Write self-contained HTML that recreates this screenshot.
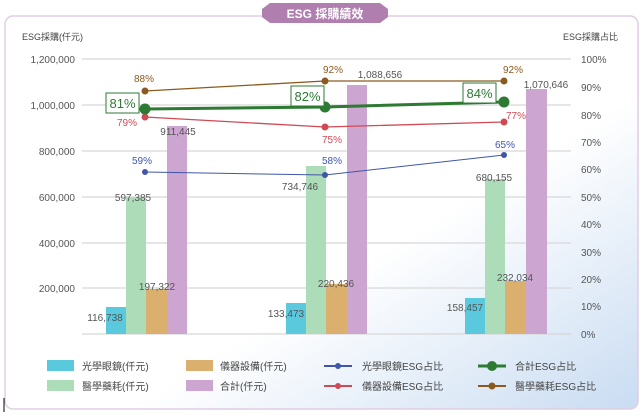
<!DOCTYPE html>
<html><head><meta charset="utf-8"><style>
body{margin:0;width:641px;height:415px;overflow:hidden;background:#fff;font-family:"Liberation Sans","Noto Sans CJK TC",sans-serif}
</style></head><body>
<svg width="641" height="415" viewBox="0 0 641 415" xmlns="http://www.w3.org/2000/svg" font-family="Liberation Sans, Noto Sans CJK TC, sans-serif">
<defs><linearGradient id="bg" x1="0" y1="0" x2="1" y2="1"><stop offset="0.6" stop-color="#fff"/><stop offset="1" stop-color="#c9dcf2"/></linearGradient></defs>
<rect x="5" y="16" width="633" height="393" rx="8" fill="url(#bg)" stroke="#e0cde3" stroke-width="1.5"/>
<polygon points="262,9 270,3 380,3 388,9 388,17 380,23 270,23 262,17" fill="#b07fb0"/>
<text x="325" y="18" font-size="12" font-weight="bold" fill="#fff" text-anchor="middle">ESG 採購績效</text>
<text x="22" y="40" font-size="9" fill="#444">ESG採購(仟元)</text>
<text x="618" y="40" font-size="9" fill="#444" text-anchor="end">ESG採購占比</text>
<g stroke="#d8d8d8" stroke-width="1.2">
<line x1="82" y1="59" x2="571" y2="59"/><line x1="82" y1="105" x2="571" y2="105"/><line x1="82" y1="151" x2="571" y2="151"/><line x1="82" y1="197" x2="571" y2="197"/><line x1="82" y1="243" x2="571" y2="243"/><line x1="82" y1="288" x2="571" y2="288"/><line x1="82" y1="334" x2="571" y2="334"/></g>
<g font-size="10" fill="#555" text-anchor="end">
<text x="75" y="63">1,200,000</text><text x="75" y="109">1,000,000</text><text x="75" y="155">800,000</text><text x="75" y="201">600,000</text><text x="75" y="247">400,000</text><text x="75" y="292">200,000</text></g>
<g font-size="10" fill="#555">
<text x="581" y="63">100%</text><text x="581" y="91">90%</text><text x="581" y="119">80%</text><text x="581" y="146">70%</text><text x="581" y="173">60%</text><text x="581" y="201">50%</text><text x="581" y="228">40%</text><text x="581" y="256">30%</text><text x="581" y="283">20%</text><text x="581" y="310">10%</text><text x="581" y="338">0%</text></g>
<g>
<rect x="106" y="307" width="20" height="27" fill="#5bc9dd"/><rect x="126" y="197" width="20" height="137" fill="#acdcb8"/><rect x="146" y="289" width="21" height="45" fill="#dbaf6d"/><rect x="167" y="126" width="20" height="208" fill="#cca5d0"/>
<rect x="286" y="303" width="20" height="31" fill="#5bc9dd"/><rect x="306" y="166" width="20" height="168" fill="#acdcb8"/><rect x="326" y="284" width="21" height="50" fill="#dbaf6d"/><rect x="347" y="85" width="20" height="249" fill="#cca5d0"/>
<rect x="465" y="298" width="20" height="36" fill="#5bc9dd"/><rect x="485" y="179" width="20" height="155" fill="#acdcb8"/><rect x="505" y="281" width="21" height="53" fill="#dbaf6d"/><rect x="526" y="89" width="21" height="245" fill="#cca5d0"/>
</g>
<g font-size="10" fill="#555" text-anchor="middle">
<text x="105" y="321">116,738</text><text x="133" y="201">597,385</text><text x="157" y="290">197,322</text><text x="178" y="135">911,445</text>
<text x="286" y="317">133,473</text><text x="300" y="190">734,746</text><text x="336" y="287">220,436</text><text x="380" y="78">1,088,656</text>
<text x="465" y="311">158,457</text><text x="494" y="181">680,155</text><text x="515" y="281">232,034</text><text x="546" y="88">1,070,646</text></g>
<g fill="none">
<polyline points="145,91 325,81 504,81" stroke="#8b5a1e" stroke-width="1.3"/>
<polyline points="145,117 325,127 504,122" stroke="#cf4a55" stroke-width="1.3"/>
<polyline points="145,172 325,175 504,155" stroke="#4056a8" stroke-width="1"/>
<polyline points="145,109 325,107 504,102" stroke="#2d7a33" stroke-width="3"/>
</g>
<g fill="#8b5a1e"><circle cx="145" cy="91" r="3.5"/><circle cx="325" cy="81" r="3.5"/><circle cx="504" cy="81" r="3.5"/></g>
<g fill="#cf4a55"><circle cx="145" cy="117" r="3.5"/><circle cx="325" cy="127" r="3.5"/><circle cx="504" cy="122" r="3.5"/></g>
<g fill="#4056a8"><circle cx="145" cy="172" r="3"/><circle cx="325" cy="175" r="3"/><circle cx="504" cy="155" r="3"/></g>
<g fill="#2d7a33"><circle cx="145" cy="109" r="5.5"/><circle cx="325" cy="107" r="5.5"/><circle cx="504" cy="102" r="5.5"/></g>
<g font-size="10" text-anchor="middle">
<text x="144" y="82" fill="#8b5a1e">88%</text><text x="333" y="73" fill="#8b5a1e">92%</text><text x="513" y="73" fill="#8b5a1e">92%</text>
<text x="127" y="126" fill="#cf4a55">79%</text><text x="332" y="143" fill="#cf4a55">75%</text><text x="516" y="119" fill="#cf4a55">77%</text>
<text x="142" y="164" fill="#4056a8">59%</text><text x="332" y="164" fill="#4056a8">58%</text><text x="505" y="148" fill="#4056a8">65%</text></g>
<g fill="#fff" stroke="#2d7a33" stroke-width="1"><rect x="106" y="93" width="33" height="20"/><rect x="291" y="86" width="33" height="20"/><rect x="463" y="83" width="33" height="20"/></g>
<g font-size="13" fill="#2d7a33" text-anchor="middle"><text x="122.5" y="108">81%</text><text x="307.5" y="101">82%</text><text x="479.5" y="98">84%</text></g>
<rect x="47" y="360" width="27" height="11" fill="#5bc9dd"/><rect x="47" y="380" width="27" height="11" fill="#acdcb8"/>
<rect x="186" y="360" width="27" height="11" fill="#dbaf6d"/><rect x="186" y="380" width="27" height="11" fill="#cca5d0"/>
<line x1="324" y1="366" x2="352" y2="366" stroke="#4056a8" stroke-width="2"/><circle cx="338" cy="366" r="3" fill="#4056a8"/>
<line x1="324" y1="386" x2="352" y2="386" stroke="#cf4a55" stroke-width="2"/><circle cx="338" cy="386" r="3" fill="#cf4a55"/>
<line x1="478" y1="366" x2="506" y2="366" stroke="#2d7a33" stroke-width="3"/><circle cx="492" cy="366" r="5" fill="#2d7a33"/>
<line x1="478" y1="386" x2="506" y2="386" stroke="#8b5a1e" stroke-width="2"/><circle cx="492" cy="386" r="3.5" fill="#8b5a1e"/>
<g font-size="10" fill="#444">
<text x="82" y="370">光學眼鏡(仟元)</text><text x="82" y="390">醫學藥耗(仟元)</text>
<text x="220" y="370">儀器設備(仟元)</text><text x="220" y="390">合計(仟元)</text>
<text x="362" y="370">光學眼鏡ESG占比</text><text x="362" y="390">儀器設備ESG占比</text>
<text x="515" y="370">合計ESG占比</text><text x="515" y="390">醫學藥耗ESG占比</text></g>
<line x1="4" y1="398" x2="4" y2="412" stroke="#000" stroke-width="1"/>
</svg>
</body></html>
